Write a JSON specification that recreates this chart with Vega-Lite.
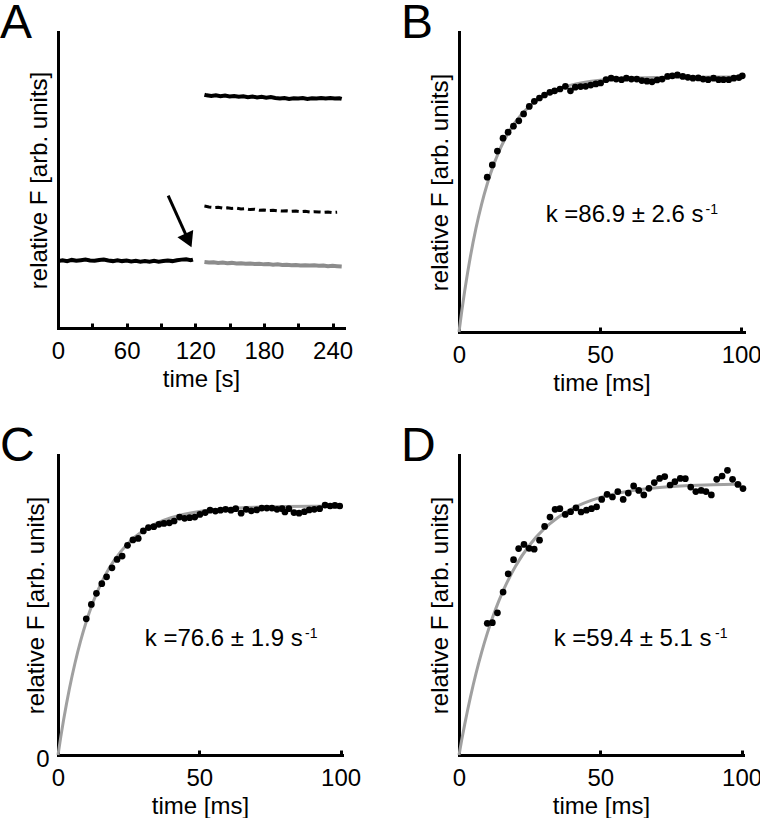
{
  "$schema": "https://vega.github.io/schema/vega-lite/v6.json",
  "padding": 0,
  "background": "white",
  "columns": 2,
  "spacing": {"row": 28, "column": 40},
  "config": {
    "view": {"stroke": null},
    "font": "Liberation Sans",
    "axis": {"domainColor": "black", "domainWidth": 3, "domainCap": "square", "tickColor": "black", "tickWidth": 3, "tickSize": -5, "labelFont": "Liberation Sans", "labelFontSize": 24, "labelColor": "black", "labelPadding": 16, "labelFlush": false, "titleFont": "Liberation Sans", "titleFontSize": 24, "titleFontWeight": "normal", "titleColor": "black", "titlePadding": 4, "grid": false},
    "title": {"font": "Liberation Sans", "fontSize": 48, "fontWeight": "normal", "anchor": "start", "frame": "group", "color": "black", "dx": -58, "offset": -16}
  },
  "concat": [
    {
      "width": 286, "height": 296,
      "title": {"text": "A"},
      "data": {"values": [
        {"s":"pre","t":0,"v":0.226},{"s":"pre","t":4,"v":0.229},{"s":"pre","t":8,"v":0.226},{"s":"pre","t":12,"v":0.230},{"s":"pre","t":16,"v":0.227},{"s":"pre","t":20,"v":0.229},{"s":"pre","t":24,"v":0.231},{"s":"pre","t":28,"v":0.228},{"s":"pre","t":32,"v":0.227},{"s":"pre","t":36,"v":0.230},{"s":"pre","t":40,"v":0.231},{"s":"pre","t":44,"v":0.228},{"s":"pre","t":48,"v":0.226},{"s":"pre","t":52,"v":0.229},{"s":"pre","t":56,"v":0.226},{"s":"pre","t":60,"v":0.228},{"s":"pre","t":64,"v":0.225},{"s":"pre","t":68,"v":0.227},{"s":"pre","t":72,"v":0.224},{"s":"pre","t":76,"v":0.226},{"s":"pre","t":80,"v":0.224},{"s":"pre","t":84,"v":0.227},{"s":"pre","t":88,"v":0.224},{"s":"pre","t":92,"v":0.226},{"s":"pre","t":96,"v":0.228},{"s":"pre","t":100,"v":0.226},{"s":"pre","t":104,"v":0.229},{"s":"pre","t":108,"v":0.231},{"s":"pre","t":112,"v":0.232},{"s":"pre","t":116,"v":0.229},{"s":"pre","t":118,"v":0.231},
        {"s":"high","t":128,"v":0.788},{"s":"high","t":130,"v":0.786},{"s":"high","t":134,"v":0.784},{"s":"high","t":138,"v":0.786},{"s":"high","t":142,"v":0.783},{"s":"high","t":146,"v":0.785},{"s":"high","t":150,"v":0.782},{"s":"high","t":154,"v":0.784},{"s":"high","t":158,"v":0.781},{"s":"high","t":162,"v":0.783},{"s":"high","t":166,"v":0.780},{"s":"high","t":170,"v":0.782},{"s":"high","t":174,"v":0.779},{"s":"high","t":178,"v":0.781},{"s":"high","t":182,"v":0.778},{"s":"high","t":186,"v":0.780},{"s":"high","t":190,"v":0.777},{"s":"high","t":194,"v":0.775},{"s":"high","t":198,"v":0.777},{"s":"high","t":202,"v":0.774},{"s":"high","t":206,"v":0.776},{"s":"high","t":210,"v":0.775},{"s":"high","t":214,"v":0.777},{"s":"high","t":218,"v":0.774},{"s":"high","t":222,"v":0.776},{"s":"high","t":226,"v":0.775},{"s":"high","t":230,"v":0.777},{"s":"high","t":234,"v":0.775},{"s":"high","t":238,"v":0.777},{"s":"high","t":242,"v":0.775},{"s":"high","t":246,"v":0.776},{"s":"high","t":248,"v":0.774},
        {"s":"mid","t":128,"v":0.412},{"s":"mid","t":132,"v":0.409},{"s":"mid","t":136,"v":0.407},{"s":"mid","t":140,"v":0.408},{"s":"mid","t":144,"v":0.405},{"s":"mid","t":148,"v":0.406},{"s":"mid","t":152,"v":0.404},{"s":"mid","t":156,"v":0.405},{"s":"mid","t":160,"v":0.402},{"s":"mid","t":164,"v":0.403},{"s":"mid","t":168,"v":0.400},{"s":"mid","t":172,"v":0.401},{"s":"mid","t":176,"v":0.398},{"s":"mid","t":180,"v":0.399},{"s":"mid","t":184,"v":0.397},{"s":"mid","t":188,"v":0.398},{"s":"mid","t":192,"v":0.396},{"s":"mid","t":196,"v":0.395},{"s":"mid","t":200,"v":0.396},{"s":"mid","t":204,"v":0.394},{"s":"mid","t":208,"v":0.395},{"s":"mid","t":212,"v":0.393},{"s":"mid","t":216,"v":0.394},{"s":"mid","t":220,"v":0.392},{"s":"mid","t":224,"v":0.393},{"s":"mid","t":228,"v":0.392},{"s":"mid","t":232,"v":0.391},{"s":"mid","t":236,"v":0.392},{"s":"mid","t":240,"v":0.390},{"s":"mid","t":244,"v":0.391},
        {"s":"low","t":128,"v":0.223},{"s":"low","t":132,"v":0.221},{"s":"low","t":136,"v":0.222},{"s":"low","t":140,"v":0.220},{"s":"low","t":144,"v":0.221},{"s":"low","t":148,"v":0.219},{"s":"low","t":152,"v":0.220},{"s":"low","t":156,"v":0.218},{"s":"low","t":160,"v":0.219},{"s":"low","t":164,"v":0.217},{"s":"low","t":168,"v":0.218},{"s":"low","t":172,"v":0.216},{"s":"low","t":176,"v":0.217},{"s":"low","t":180,"v":0.215},{"s":"low","t":184,"v":0.216},{"s":"low","t":188,"v":0.214},{"s":"low","t":192,"v":0.215},{"s":"low","t":196,"v":0.213},{"s":"low","t":200,"v":0.214},{"s":"low","t":204,"v":0.212},{"s":"low","t":208,"v":0.213},{"s":"low","t":212,"v":0.211},{"s":"low","t":216,"v":0.212},{"s":"low","t":220,"v":0.211},{"s":"low","t":224,"v":0.212},{"s":"low","t":228,"v":0.210},{"s":"low","t":232,"v":0.211},{"s":"low","t":236,"v":0.209},{"s":"low","t":240,"v":0.210},{"s":"low","t":244,"v":0.209},{"s":"low","t":248,"v":0.208}
      ]},
      "encoding": {
        "x": {"field": "t", "type": "quantitative", "scale": {"domain": [0, 250], "nice": false}, "axis": {"values": [0,30,60,90,120,150,180,210,240], "labelExpr": "datum.value % 60 === 0 ? datum.label : ''", "title": "time [s]"}},
        "y": {"field": "v", "type": "quantitative", "scale": {"domain": [0, 1], "nice": false}, "axis": {"title": "relative F [arb. units]", "labels": false, "ticks": false, "titlePadding": 7}}
      },
      "layer": [
        {"transform": [{"filter": "datum.s === 'pre'"}], "mark": {"type": "line", "color": "black", "strokeWidth": 4}},
        {"transform": [{"filter": "datum.s === 'high'"}], "mark": {"type": "line", "color": "black", "strokeWidth": 4}},
        {"transform": [{"filter": "datum.s === 'mid'"}], "mark": {"type": "line", "color": "black", "strokeWidth": 3, "strokeDash": [7, 4]}},
        {"transform": [{"filter": "datum.s === 'low'"}], "mark": {"type": "line", "color": "#8c8c8c", "strokeWidth": 4}},
        {"data": {"values": [{"t": 96.3, "v": 0.447, "t2": 114, "v2": 0.296}]}, "mark": {"type": "rule", "color": "black", "strokeWidth": 3}, "encoding": {"x2": {"field": "t2"}, "y2": {"field": "v2"}}},
        {"data": {"values": [{"t": 114, "v": 0.296}]}, "mark": {"type": "point", "shape": "triangle-up", "angle": 155.6, "size": 300, "filled": true, "color": "black", "opacity": 1}}
      ]
    },
    {
      "width": 285, "height": 300,
      "title": {"text": "B"},
      "data": {"values": [
        {"t":10.0,"v":0.516},{"t":11.8,"v":0.557},{"t":13.6,"v":0.603},{"t":15.6,"v":0.646},{"t":17.4,"v":0.666},{"t":19.3,"v":0.686},{"t":21.2,"v":0.704},{"t":22.9,"v":0.727},{"t":24.9,"v":0.752},{"t":26.7,"v":0.769},{"t":28.5,"v":0.780},{"t":30.3,"v":0.790},{"t":32.2,"v":0.799},{"t":33.9,"v":0.804},{"t":35.8,"v":0.810},{"t":37.7,"v":0.819},{"t":39.5,"v":0.804},{"t":41.2,"v":0.816},{"t":43.1,"v":0.818},{"t":44.9,"v":0.819},{"t":46.7,"v":0.823},{"t":48.5,"v":0.827},{"t":50.2,"v":0.830},{"t":52.1,"v":0.841},{"t":53.9,"v":0.846},{"t":55.7,"v":0.843},{"t":57.6,"v":0.841},{"t":59.3,"v":0.846},{"t":61.1,"v":0.843},{"t":63.0,"v":0.843},{"t":64.8,"v":0.838},{"t":66.6,"v":0.836},{"t":68.4,"v":0.834},{"t":70.2,"v":0.840},{"t":72.0,"v":0.843},{"t":73.9,"v":0.852},{"t":75.6,"v":0.854},{"t":77.4,"v":0.857},{"t":79.3,"v":0.852},{"t":81.1,"v":0.849},{"t":82.9,"v":0.846},{"t":84.8,"v":0.847},{"t":86.5,"v":0.843},{"t":88.3,"v":0.841},{"t":90.2,"v":0.846},{"t":92.0,"v":0.841},{"t":93.7,"v":0.841},{"t":95.6,"v":0.841},{"t":97.4,"v":0.846},{"t":99.2,"v":0.848},{"t":100.4,"v":0.854}
      ]},
      "encoding": {
        "x": {"field": "t", "type": "quantitative", "scale": {"domain": [0, 101], "nice": false}, "axis": {"values": [0, 50, 100], "title": "time [ms]"}},
        "y": {"field": "v", "type": "quantitative", "scale": {"domain": [0, 1], "nice": false}, "axis": {"title": "relative F [arb. units]", "labels": false, "ticks": false, "titlePadding": 7}}
      },
      "layer": [
        {"data": {"values": [{"t":0,"v":0},{"t":1,"v":0.0708},{"t":2,"v":0.1356},{"t":3,"v":0.1951},{"t":4,"v":0.2496},{"t":5,"v":0.2995},{"t":6,"v":0.3454},{"t":8,"v":0.4258},{"t":10,"v":0.4935},{"t":12,"v":0.5504},{"t":14,"v":0.5982},{"t":16,"v":0.6384},{"t":18,"v":0.6721},{"t":20,"v":0.7005},{"t":25,"v":0.7532},{"t":30,"v":0.7873},{"t":35,"v":0.8094},{"t":40,"v":0.8237},{"t":50,"v":0.839},{"t":60,"v":0.8454},{"t":70,"v":0.8481},{"t":80,"v":0.8492},{"t":90,"v":0.8497},{"t":100,"v":0.8499}]}, "mark": {"type": "line", "color": "#a0a0a0", "strokeWidth": 3, "interpolate": "monotone"}},
        {"mark": {"type": "circle", "color": "black", "size": 45, "opacity": 1}},
        {"data": {"values": [{"t": 30.7, "v": 0.367, "label": "k =86.9 ± 2.6 s"}]}, "mark": {"type": "text", "align": "left", "baseline": "alphabetic", "fontSize": 24, "color": "black"}, "encoding": {"text": {"field": "label"}}},
        {"data": {"values": [{"t": 87.4, "v": 0.393, "label": "-1"}]}, "mark": {"type": "text", "align": "left", "baseline": "alphabetic", "fontSize": 14, "color": "black"}, "encoding": {"text": {"field": "label"}}}
      ]
    },
    {
      "width": 284, "height": 300,
      "title": {"text": "C"},
      "data": {"values": [
        {"t":10.0,"v":0.454},{"t":11.8,"v":0.502},{"t":13.6,"v":0.539},{"t":15.5,"v":0.571},{"t":17.2,"v":0.594},{"t":19.1,"v":0.624},{"t":20.9,"v":0.652},{"t":22.7,"v":0.663},{"t":24.6,"v":0.699},{"t":26.5,"v":0.717},{"t":28.4,"v":0.722},{"t":30.2,"v":0.747},{"t":32.0,"v":0.758},{"t":33.9,"v":0.761},{"t":35.7,"v":0.769},{"t":37.5,"v":0.772},{"t":39.4,"v":0.774},{"t":41.1,"v":0.780},{"t":43.0,"v":0.793},{"t":44.8,"v":0.789},{"t":46.6,"v":0.791},{"t":48.4,"v":0.793},{"t":50.2,"v":0.802},{"t":52.1,"v":0.808},{"t":53.8,"v":0.816},{"t":55.7,"v":0.813},{"t":57.5,"v":0.816},{"t":59.3,"v":0.819},{"t":61.2,"v":0.816},{"t":62.9,"v":0.821},{"t":64.8,"v":0.806},{"t":66.6,"v":0.819},{"t":68.4,"v":0.814},{"t":70.3,"v":0.817},{"t":72.1,"v":0.823},{"t":73.9,"v":0.823},{"t":75.7,"v":0.823},{"t":77.5,"v":0.819},{"t":79.3,"v":0.821},{"t":80.3,"v":0.810},{"t":81.7,"v":0.821},{"t":83.5,"v":0.808},{"t":85.3,"v":0.806},{"t":87.2,"v":0.811},{"t":88.9,"v":0.817},{"t":90.7,"v":0.819},{"t":92.6,"v":0.821},{"t":94.5,"v":0.833},{"t":96.3,"v":0.830},{"t":98.0,"v":0.832},{"t":99.7,"v":0.830}
      ]},
      "encoding": {
        "x": {"field": "t", "type": "quantitative", "scale": {"domain": [0, 100.5], "nice": false}, "axis": {"values": [0, 50, 100], "title": "time [ms]"}},
        "y": {"field": "v", "type": "quantitative", "scale": {"domain": [0, 1], "nice": false}, "axis": {"title": "relative F [arb. units]", "values": [0], "labels": true, "ticks": false, "labelPadding": 9, "labelBaseline": "middle", "labelOffset": 4, "titlePadding": -13}}
      },
      "layer": [
        {"data": {"values": [{"t":0,"v":0},{"t":1,"v":0.0612},{"t":2,"v":0.1184},{"t":3,"v":0.1704},{"t":4,"v":0.219},{"t":5,"v":0.2641},{"t":6,"v":0.3059},{"t":8,"v":0.3803},{"t":10,"v":0.4441},{"t":12,"v":0.499},{"t":14,"v":0.546},{"t":16,"v":0.5863},{"t":18,"v":0.6209},{"t":20,"v":0.6506},{"t":25,"v":0.7077},{"t":30,"v":0.7467},{"t":35,"v":0.7731},{"t":40,"v":0.7912},{"t":50,"v":0.812},{"t":60,"v":0.8216},{"t":70,"v":0.8261},{"t":80,"v":0.8282},{"t":90,"v":0.8292},{"t":100,"v":0.8296}]}, "mark": {"type": "line", "color": "#a0a0a0", "strokeWidth": 3, "interpolate": "monotone"}},
        {"mark": {"type": "circle", "color": "black", "size": 45, "opacity": 1}},
        {"data": {"values": [{"t": 30.7, "v": 0.363, "label": "k =76.6 ± 1.9 s"}]}, "mark": {"type": "text", "align": "left", "baseline": "alphabetic", "fontSize": 24, "color": "black"}, "encoding": {"text": {"field": "label"}}},
        {"data": {"values": [{"t": 87.4, "v": 0.39, "label": "-1"}]}, "mark": {"type": "text", "align": "left", "baseline": "alphabetic", "fontSize": 14, "color": "black"}, "encoding": {"text": {"field": "label"}}}
      ]
    },
    {
      "width": 284, "height": 300,
      "title": {"text": "D"},
      "data": {"values": [
        {"t":10.0,"v":0.439},{"t":11.8,"v":0.441},{"t":13.6,"v":0.474},{"t":15.6,"v":0.543},{"t":17.4,"v":0.604},{"t":19.3,"v":0.651},{"t":21.1,"v":0.688},{"t":23.0,"v":0.702},{"t":24.8,"v":0.689},{"t":26.6,"v":0.686},{"t":28.5,"v":0.716},{"t":30.3,"v":0.762},{"t":32.2,"v":0.793},{"t":34.0,"v":0.819},{"t":35.7,"v":0.821},{"t":37.6,"v":0.802},{"t":39.5,"v":0.811},{"t":41.4,"v":0.824},{"t":43.2,"v":0.810},{"t":45.1,"v":0.816},{"t":46.9,"v":0.821},{"t":48.7,"v":0.827},{"t":50.5,"v":0.852},{"t":52.4,"v":0.869},{"t":54.3,"v":0.860},{"t":56.2,"v":0.878},{"t":58.1,"v":0.852},{"t":59.9,"v":0.873},{"t":61.8,"v":0.897},{"t":63.6,"v":0.882},{"t":65.4,"v":0.867},{"t":67.2,"v":0.889},{"t":69.1,"v":0.908},{"t":71.0,"v":0.922},{"t":72.8,"v":0.928},{"t":74.7,"v":0.900},{"t":76.4,"v":0.911},{"t":78.3,"v":0.922},{"t":80.1,"v":0.921},{"t":82.0,"v":0.893},{"t":83.8,"v":0.878},{"t":85.7,"v":0.882},{"t":87.4,"v":0.878},{"t":89.3,"v":0.867},{"t":91.2,"v":0.919},{"t":93.1,"v":0.930},{"t":95.0,"v":0.949},{"t":96.8,"v":0.919},{"t":98.7,"v":0.902},{"t":100.5,"v":0.888}
      ]},
      "encoding": {
        "x": {"field": "t", "type": "quantitative", "scale": {"domain": [0, 100.5], "nice": false}, "axis": {"values": [0, 50, 100], "title": "time [ms]"}},
        "y": {"field": "v", "type": "quantitative", "scale": {"domain": [0, 1], "nice": false}, "axis": {"title": "relative F [arb. units]", "labels": false, "ticks": false, "titlePadding": 7}}
      },
      "layer": [
        {"data": {"values": [{"t":0,"v":0},{"t":1,"v":0.0522},{"t":2,"v":0.1013},{"t":3,"v":0.1477},{"t":4,"v":0.1914},{"t":5,"v":0.2326},{"t":6,"v":0.2714},{"t":8,"v":0.3423},{"t":10,"v":0.4053},{"t":12,"v":0.4613},{"t":14,"v":0.5111},{"t":16,"v":0.5552},{"t":18,"v":0.5943},{"t":20,"v":0.6292},{"t":25,"v":0.7},{"t":30,"v":0.7527},{"t":35,"v":0.7918},{"t":40,"v":0.8209},{"t":50,"v":0.8586},{"t":60,"v":0.8794},{"t":70,"v":0.8909},{"t":80,"v":0.8972},{"t":90,"v":0.9007},{"t":100,"v":0.9026}]}, "mark": {"type": "line", "color": "#a0a0a0", "strokeWidth": 3, "interpolate": "monotone"}},
        {"mark": {"type": "circle", "color": "black", "size": 45, "opacity": 1}},
        {"data": {"values": [{"t": 33.5, "v": 0.363, "label": "k =59.4 ± 5.1 s"}]}, "mark": {"type": "text", "align": "left", "baseline": "alphabetic", "fontSize": 24, "color": "black"}, "encoding": {"text": {"field": "label"}}},
        {"data": {"values": [{"t": 90.6, "v": 0.39, "label": "-1"}]}, "mark": {"type": "text", "align": "left", "baseline": "alphabetic", "fontSize": 14, "color": "black"}, "encoding": {"text": {"field": "label"}}}
      ]
    }
  ]
}
